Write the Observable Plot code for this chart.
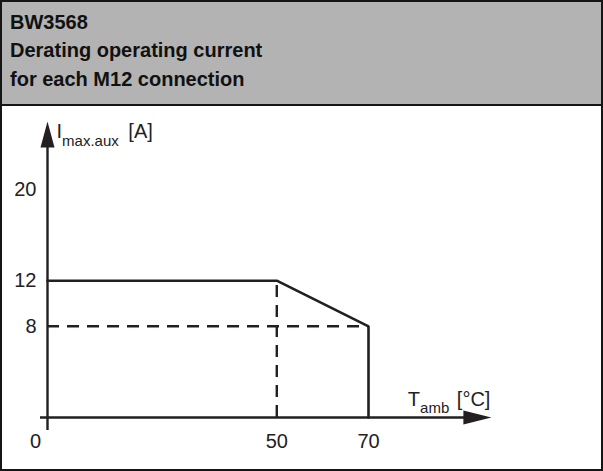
<!DOCTYPE html>
<html>
<head>
<meta charset="utf-8">
<script src="https://cdn.jsdelivr.net/npm/d3@7"></script>
<script src="https://cdn.jsdelivr.net/npm/@observablehq/plot@0.6"></script>
<style>
  html, body { margin: 0; padding: 0; background: #fff; }
  #wrap {
    width: 603px; height: 471px; box-sizing: border-box;
    border: 2px solid #151515; position: relative; overflow: hidden;
    font-family: "Liberation Sans", Arial, sans-serif;
  }
  #head {
    box-sizing: border-box; height: 104px;
    background: #b3b3b3; border-bottom: 2px solid #151515;
    padding: 5.8px 0 0 8px;
    font-weight: bold; font-size: 20px; line-height: 28.5px; color: #111;
  }
  #chart svg { display: block; }
</style>
</head>
<body>
<div id="wrap">
  <div id="head"></div>
  <div id="chart"></div>
</div>
<script>
// ---- data ----
const titleLines = ["BW3568", "Derating operating current", "for each M12 connection"];
const curveT = [0, 50, 70, 70];          // ambient temperature [°C]
const curveI = [12, 12, 8, 0];           // max current [A]
const guideT = [50];                     // vertical dashed guide at T
const guideTTop = [12];                  // ...up to I
const guideI = [8];                      // horizontal dashed guide at I
const guideIEnd = [70];                  // ...up to T
const xTicks = [50, 70];
const originLabel = ["0"];
const yTicks = [20, 12, 8];
const yLabel = ["I", "max.aux", " [A]"];
const xLabel = ["T", "amb", " [°C]"];
// axis extents (data units)
const xAxisFrom = -1.53, xAxisTip = 96.8;
const yAxisFrom = -1.14, yAxisTip = 25.96;

const ink = "#231f20";
const curve = curveT.map((t, i) => ({t, i: curveI[i]}));

const head = document.getElementById("head");
titleLines.forEach((line, k) => {
  if (k) head.appendChild(document.createElement("br"));
  head.appendChild(document.createTextNode(line));
});

const arrowUp = {draw(ctx) { ctx.moveTo(0, 0); ctx.lineTo(7, 26); ctx.lineTo(-7, 26); ctx.closePath(); }};
const arrowRight = {draw(ctx) { ctx.moveTo(0, 0); ctx.lineTo(-28, 7); ctx.lineTo(-28, -7); ctx.closePath(); }};

const svg = Plot.plot({
  width: 599,
  height: 363,
  margin: 0,
  style: {fontFamily: "'Liberation Sans', Arial, sans-serif", overflow: "visible", background: "transparent"},
  x: {domain: [0, 70], range: [45, 366], axis: null},
  y: {domain: [0, 20], range: [311, 83], axis: null},
  marks: [
    // dashed guides
    Plot.ruleY(guideI, {x1: 0, x2: guideIEnd[0], stroke: ink, strokeWidth: 2.4, strokeDasharray: "12,8"}),
    Plot.ruleX(guideT, {y1: 0, y2: guideTTop[0], stroke: ink, strokeWidth: 2.4, strokeDasharray: "12,8"}),
    // axes
    Plot.ruleY([0], {x1: xAxisFrom, x2: xAxisTip - 4, stroke: ink, strokeWidth: 2.4}),
    Plot.ruleX([0], {y1: yAxisFrom, y2: yAxisTip - 1.5, stroke: ink, strokeWidth: 2.4}),
    Plot.dot([{x: xAxisTip, y: 0}], {x: "x", y: "y", symbol: arrowRight, fill: ink, stroke: "none"}),
    Plot.dot([{x: 0, y: yAxisTip}], {x: "x", y: "y", symbol: arrowUp, fill: ink, stroke: "none"}),
    // derating curve
    Plot.line(curve, {x: "t", y: "i", stroke: ink, strokeWidth: 2.6, strokeLinejoin: "miter"}),
    // tick labels
    Plot.text(yTicks, {x: 0, y: d => d, text: d => String(d), textAnchor: "end", dx: -11, fontSize: 20, fill: "#222"}),
    Plot.text(xTicks, {x: d => d, y: 0, text: d => String(d), dy: 24, fontSize: 20, fill: "#222"}),
    Plot.text(originLabel, {x: 0, y: 0, text: d => d, dx: -12, dy: 24, fontSize: 20, fill: "#222"}),
    // axis titles
    Plot.text([yLabel.join("")], {x: 0, y: yAxisTip, text: d => d, textAnchor: "start", dx: 9, dy: 9.6, fontSize: 20, fill: "#222"}),
    Plot.text([xLabel.join("")], {x: xAxisTip, y: 0, text: d => d, textAnchor: "end", dx: -1, dy: -18.4, fontSize: 20, fill: "#222"})
  ]
});

function subscriptify(parts, subSize, shift, gap) {
  const full = parts.join("");
  const node = Array.from(svg.querySelectorAll("text")).find(t => t.textContent === full);
  if (!node) return;
  while (node.firstChild) node.removeChild(node.firstChild);
  const txt = d3.select(node);
  txt.append("tspan").text(parts[0]);
  txt.append("tspan").attr("dy", shift).attr("font-size", subSize).text(parts[1]);
  txt.append("tspan").attr("dy", -shift).attr("dx", gap).text(parts[2]);
}
subscriptify(yLabel, 15, 8, 4);
subscriptify(xLabel, 15, 8, 2);

document.getElementById("chart").appendChild(svg);
</script>
</body>
</html>
